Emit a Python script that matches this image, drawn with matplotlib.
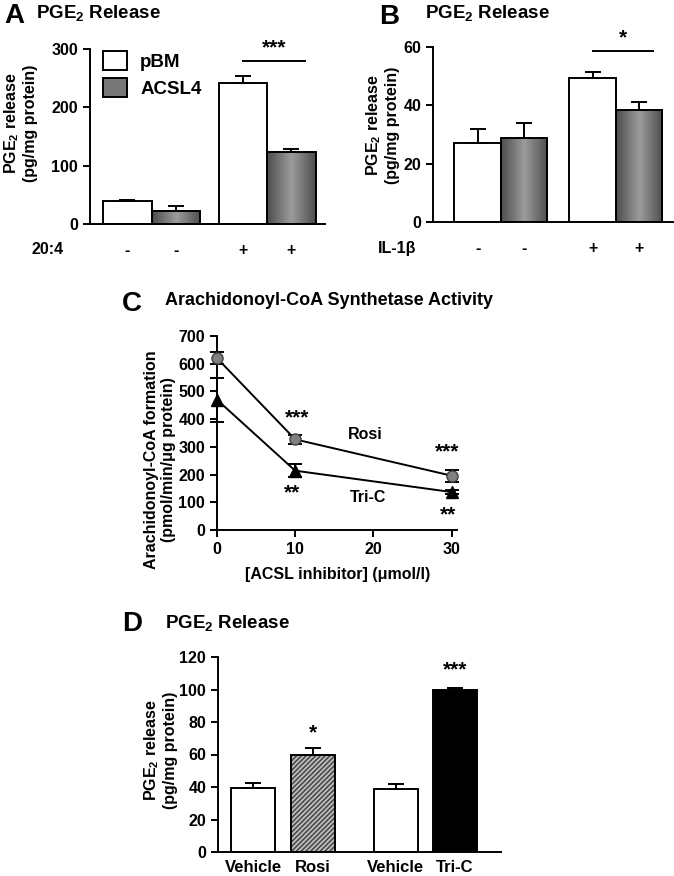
import matplotlib
matplotlib.use('Agg')
import matplotlib.pyplot as plt
import numpy as np
from matplotlib.colors import LinearSegmentedColormap
from matplotlib.patches import Patch

plt.rcParams['font.family'] = ['Liberation Sans', 'DejaVu Sans']
plt.rcParams['font.weight'] = 'bold'
plt.rcParams['axes.labelweight'] = 'bold'
plt.rcParams['mathtext.fontset'] = 'custom'
plt.rcParams['mathtext.bf'] = 'Liberation Sans:bold'
plt.rcParams['mathtext.rm'] = 'Liberation Sans:bold'
plt.rcParams['mathtext.default'] = 'bf'
plt.rcParams['hatch.linewidth'] = 1.1

# panel A - PGE2 release, pBM vs ACSL4, +/- 20:4
a_cond = ['-', '-', '+', '+']
a_means = [39, 23, 242, 123]
a_errs = [3, 8, 11, 5]

# panel B - PGE2 release, +/- IL-1b
b_cond = ['-', '-', '+', '+']
b_means = [27.1, 28.8, 49.4, 38.4]
b_errs = [4.7, 5.2, 2.0, 2.7]

# panel C - arachidonoyl-CoA synthetase activity
c_dose = [0, 10, 30]
c_rosi = [620, 327, 196]
c_rosi_err = [22, 16, 22]
c_tric = [470, 214, 137]
c_tric_err = [80, 24, 8]

# panel D - PGE2 release with inhibitors
d_labels = ['Vehicle', 'Rosi', 'Vehicle', 'Tri-C']
d_means = [39.6, 59.5, 39.0, 99.9]
d_errs = [3.1, 4.5, 3.0, 1.2]

LW = 1.4
TICK = 11.5
STAR = 15

gray_cmap = LinearSegmentedColormap.from_list('g', ['#4e4e4e', '#9c9c9c', '#4e4e4e'])
shade = np.linspace(0, 1, 64).reshape(1, -1)


def fx(px):
    return px / 674.0


def fy(py):
    return 1 - py / 876.0


def style_axes(ax):
    for s in ['top', 'right']:
        ax.spines[s].set_visible(False)
    for s in ['left', 'bottom']:
        ax.spines[s].set_linewidth(LW)
    ax.tick_params(axis='y', direction='out', length=5, width=LW, labelsize=TICK)


def shade_bars(ax, bars):
    for b in bars:
        x0, w, h = b.get_x(), b.get_width(), b.get_height()
        im = ax.imshow(shade, extent=[x0, x0 + w, 0, h], cmap=gray_cmap,
                       aspect='auto', interpolation='bicubic', zorder=2)
        im.set_clip_path(b)


def pair_bars(ax, pos, means, errs):
    faces = ['white', '#777777', 'white', '#777777']
    bars = ax.bar(pos, means, width=1.0, color=faces, edgecolor='none', zorder=1)
    shade_bars(ax, [bars[1], bars[3]])
    ax.bar(pos, means, width=1.0, fill=False, edgecolor='black', linewidth=LW, zorder=3)
    ax.errorbar(pos, means, yerr=[[0] * len(errs), errs], fmt='none', ecolor='black',
                elinewidth=LW, capsize=5.5, capthick=LW, zorder=4)


def ylab(x, y, text):
    fig.text(fx(x), fy(y), text, rotation=90, ha='center', va='center',
             multialignment='center', fontsize=11.5, fontweight='bold')


fig = plt.figure(figsize=(6.74, 8.76), dpi=100)

# ---------------- A ----------------
axA = fig.add_axes([fx(90), fy(224), 235 / 674, 175 / 876])
posA = [0, 1, 2.38, 3.38]
pair_bars(axA, posA, a_means, a_errs)
style_axes(axA)
axA.set_xlim(-0.77, 4.07)
axA.set_ylim(0, 300)
axA.set_yticks([0, 100, 200, 300])
axA.set_xticks(posA)
axA.set_xticklabels(a_cond, fontsize=TICK)
axA.tick_params(axis='x', length=0, pad=14)
axA.plot([posA[2], posA[3] + 0.28], [279, 279], color='black', lw=LW, clip_on=False)
axA.text((posA[2] + posA[3] + 0.28) / 2, 286, '***', ha='center', va='bottom',
         fontsize=STAR, clip_on=False)
axA.legend(handles=[Patch(facecolor='white', edgecolor='black', linewidth=LW, label='pBM'),
                    Patch(facecolor='#777777', edgecolor='black', linewidth=LW, label='ACSL4')],
           loc='upper left', bbox_to_anchor=(0.055, 0.99), frameon=False, fontsize=13.5,
           handlelength=1.28, handleheight=1.22, labelspacing=0.36, handletextpad=0.7,
           borderpad=0, borderaxespad=0)
fig.text(fx(31), fy(250), '20:4', ha='left', va='center', fontsize=TICK)
fig.text(fx(4), fy(3), 'A', ha='left', va='top', fontsize=20)
fig.text(fx(36), fy(3), r'PGE$_2$ Release', ha='left', va='top', fontsize=13.5)
ylab(20, 123, 'PGE$_2$ release\n(pg/mg protein)')

# ---------------- B ----------------
axB = fig.add_axes([fx(433), fy(222), 240 / 674, 175 / 876])
posB = [0, 1, 2.47, 3.47]
pair_bars(axB, posB, b_means, b_errs)
style_axes(axB)
axB.set_xlim(-0.96, 4.2)
axB.set_ylim(0, 60)
axB.set_yticks([0, 20, 40, 60])
axB.set_xticks(posB)
axB.set_xticklabels(b_cond, fontsize=TICK)
axB.tick_params(axis='x', length=0, pad=14)
axB.plot([posB[2], posB[3] + 0.3], [58.6, 58.6], color='black', lw=LW, clip_on=False)
axB.text((posB[2] + posB[3] + 0.3) / 2, 59.8, '*', ha='center', va='bottom',
         fontsize=STAR, clip_on=False)
fig.text(fx(378), fy(248), 'IL-1β', ha='left', va='center', fontsize=TICK)
fig.text(fx(379), fy(4), 'B', ha='left', va='top', fontsize=20)
fig.text(fx(425), fy(3), r'PGE$_2$ Release', ha='left', va='top', fontsize=13.5)
ylab(382, 125, 'PGE$_2$ release\n(pg/mg protein)')

# ---------------- C ----------------
axC = fig.add_axes([fx(217), fy(530), 240 / 674, 194 / 876])
axC.errorbar(c_dose, c_rosi, yerr=c_rosi_err, color='black', lw=LW, marker='o',
             markersize=8, markerfacecolor='#808080', markeredgecolor='#404040',
             ecolor='black', elinewidth=LW, capsize=5, capthick=LW, clip_on=False, zorder=3)
axC.errorbar(c_dose, c_tric, yerr=c_tric_err, color='black', lw=LW, marker='^',
             markersize=8.5, markerfacecolor='black', markeredgecolor='black',
             ecolor='black', elinewidth=LW, capsize=5, capthick=LW, clip_on=False, zorder=3)
style_axes(axC)
axC.set_xlim(0, 30.7)
axC.set_ylim(0, 700)
axC.set_yticks(range(0, 701, 100))
axC.set_xticks([0, 10, 20, 30])
axC.tick_params(axis='x', direction='out', length=5, width=LW, labelsize=TICK)
axC.text(10.2, 405, '***', ha='center', va='center', fontsize=STAR)
axC.text(18.9, 346, 'Rosi', ha='center', va='center', fontsize=TICK)
axC.text(29.4, 282, '***', ha='center', va='center', fontsize=STAR)
axC.text(9.6, 134, '**', ha='center', va='center', fontsize=STAR)
axC.text(19.3, 119, 'Tri-C', ha='center', va='center', fontsize=TICK)
axC.text(29.5, 55, '**', ha='center', va='center', fontsize=STAR, clip_on=False)
fig.text(fx(338), fy(575), '[ACSL inhibitor] (μmol/l)', ha='center', va='center', fontsize=11.5)
fig.text(fx(122), fy(291), 'C', ha='left', va='top', fontsize=20)
fig.text(fx(165), fy(292), 'Arachidonoyl-CoA Synthetase Activity', ha='left', va='top', fontsize=13)
ylab(160, 460, 'Arachidonoyl-CoA formation\n(pmol/min/μg protein)')

# ---------------- D ----------------
axD = fig.add_axes([fx(218), fy(852), 283 / 674, 195 / 876])
posD = [0, 1, 2.375, 3.358]
faceD = ['white', '#bdbdbd', 'white', 'black']
axD.bar(posD, d_means, width=0.733, color=faceD, edgecolor='none', zorder=1)
axD.bar(posD[1], d_means[1], width=0.733, fill=False, hatch='/' * 7,
        edgecolor='#454545', linewidth=0, zorder=2)
axD.bar(posD, d_means, width=0.733, fill=False, edgecolor='black', linewidth=LW, zorder=3)
axD.errorbar(posD, d_means, yerr=[[0] * len(d_errs), d_errs], fmt='none', ecolor='black',
             elinewidth=LW, capsize=5.5, capthick=LW, zorder=4)
style_axes(axD)
axD.set_xlim(-0.583, 4.13)
axD.set_ylim(0, 120)
axD.set_yticks(range(0, 121, 20))
axD.set_xticks(posD)
axD.set_xticklabels(d_labels, fontsize=12)
axD.tick_params(axis='x', length=0, pad=6)
axD.text(posD[1], 73, '*', ha='center', va='center', fontsize=STAR)
axD.text(posD[3], 112, '***', ha='center', va='center', fontsize=STAR)
fig.text(fx(122), fy(611), 'D', ha='left', va='top', fontsize=20)
fig.text(fx(165), fy(613), r'PGE$_2$ Release', ha='left', va='top', fontsize=13.5)
ylab(160, 750, 'PGE$_2$ release\n(pg/mg protein)')

fig.savefig('out.png', dpi=100)
